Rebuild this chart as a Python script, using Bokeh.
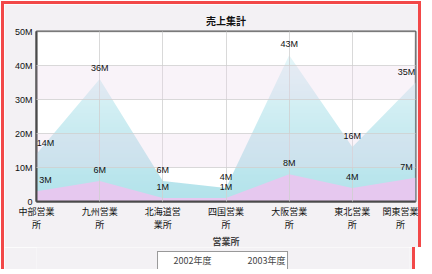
import numpy as np
from bokeh.plotting import figure
from bokeh.layouts import column
from bokeh.models import (ColumnDataSource, FixedTicker, Legend, LegendItem, Range1d, Title, LabelSet)
from bokeh.core.properties import value
from bokeh.embed import file_html
from bokeh.resources import INLINE

categories = ["中部営業所", "九州営業所", "北海道営業所", "四国営業所", "大阪営業所", "東北営業所", "関東営業所"]
sales_2002 = [14, 36, 6, 4, 43, 16, 35]   # million yen
sales_2003 = [3, 6, 1, 1, 8, 4, 7]
series_names = ["2002年度", "2003年度"]
y_ticks = [0, 10, 20, 30, 40, 50]
y_tick_labels = ["0", "10M", "20M", "30M", "40M", "50M"]

JP = "Noto Sans CJK JP"
NUM = "Liberation Sans"
C2002 = "#a8dfe8"
C2003 = "#e6c8ef"
BG = "#f3f1f4"
RED = "3px solid #f24848"

x = list(range(len(categories)))
# keep edge labels inside the (clipped) plot frame
dx = [0] * len(categories)
dx[0], dx[-1] = 9, -9
src = ColumnDataSource(dict(
    x=x, a=sales_2002, b=sales_2003, dx=dx,
    la=[f"{v}M" for v in sales_2002], lb=[f"{v}M" for v in sales_2003]))

p = figure(frame_width=373, frame_height=167, output_backend="svg", toolbar_location=None,
           x_range=Range1d(0, len(categories) - 1), y_range=Range1d(0, 50),
           min_border_left=32, min_border_right=9, min_border_top=27, min_border_bottom=0)
p.styles = {"border-left": RED, "border-right": RED, "border-top": RED,
            "margin-left": "1px", "margin-top": "1px"}
p.border_fill_color = BG
p.background_fill_color = "white"
p.outline_line_color = "#5a5a5a"
p.outline_line_width = 2

# areas
r_a = p.varea(x="x", y1=0, y2="a", source=src, fill_color=C2002, fill_alpha=0.88)
n = 120
alpha = np.linspace(0.0, 0.8, n) ** 1.1
img = np.zeros((n, 1), dtype=np.uint32)
view = img.view(dtype=np.uint8).reshape((n, 1, 4))
view[:, 0, 0] = 255
view[:, 0, 1] = 255
view[:, 0, 2] = 255
view[:, 0, 3] = (alpha * 255).astype(np.uint8)
p.image_rgba(image=[img], x=0, y=0, dw=len(categories) - 1, dh=50)
r_b = p.varea(x="x", y1=0, y2="b", source=src, fill_color=C2003, fill_alpha=1.0)

# value labels
for col in ["la", "lb"]:
    ycol = "a" if col == "la" else "b"
    p.add_layout(LabelSet(x="x", y=ycol, text=col, source=src, text_align="center",
                          text_baseline="middle", y_offset=11, x_offset="dx",
                          text_font=value(NUM), text_font_size="9px", text_color="#111111"))

# grids
p.xgrid.ticker = FixedTicker(ticks=x)
p.ygrid.ticker = FixedTicker(ticks=y_ticks)
for g in (p.xgrid, p.ygrid):
    g.grid_line_color = "#cfcfcf"
    g.grid_line_alpha = 0.8
    g.level = "guide"
p.ygrid.band_fill_color = "#ecd8ec"
p.ygrid.band_fill_alpha = 0.3

# axes
p.xaxis.ticker = FixedTicker(ticks=x)
p.xaxis.major_label_overrides = {i: (c[:4] + "\n" + c[4:]) for i, c in enumerate(categories)}
p.yaxis.ticker = FixedTicker(ticks=y_ticks)
p.yaxis.major_label_overrides = {t: l for t, l in zip(y_ticks, y_tick_labels)}
for ax in (p.xaxis, p.yaxis):
    ax.axis_line_color = "#4a4a4a"
    ax.axis_line_width = 2
    ax.major_tick_line_color = None
    ax.minor_tick_line_color = None
    ax.major_label_text_font_size = "9px"
    ax.major_label_text_color = "#111111"
    ax.major_tick_out = 0
    ax.major_tick_in = 0
p.xaxis.major_label_standoff = 3
p.yaxis.major_label_standoff = 4
p.xaxis.major_label_text_font = JP
p.yaxis.major_label_text_font = NUM
p.xaxis.major_label_text_line_height = 1.0
p.xaxis.axis_label = "営業所"
p.xaxis.axis_label_text_font = JP
p.xaxis.axis_label_text_font_style = "bold"
p.xaxis.axis_label_text_font_size = "9px"
p.xaxis.axis_label_standoff = 1

p.title = Title(text="売上集計", align="center", text_font=JP, text_font_size="10px",
                text_font_style="bold", text_color="#111111", standoff=8)

# legend strip below the chart (its own small figure, so it is never clipped away)
pl = figure(width=414, height=22, output_backend="svg", toolbar_location=None,
            x_axis_type=None, y_axis_type=None, min_border=0,
            x_range=Range1d(0, 1), y_range=Range1d(0, 1))
pl.styles = {"border-left": RED, "border-right": RED, "margin-left": "1px"}
pl.border_fill_color = BG
pl.background_fill_color = BG
pl.outline_line_color = None
pl.grid.visible = False
la = pl.varea(x=[], y1=[], y2=[], fill_color=C2002)
lb = pl.varea(x=[], y1=[], y2=[], fill_color=C2003)
legend = Legend(items=[LegendItem(label=series_names[0], renderers=[la]),
                       LegendItem(label=series_names[1], renderers=[lb])],
                orientation="horizontal", location="top_center",
                label_text_font=JP, label_text_font_size="9px", label_height=9,
                glyph_width=8, glyph_height=8, label_standoff=6, spacing=22,
                padding=2, margin=4, border_line_color="#333333", border_line_width=1,
                background_fill_color="white")
pl.add_layout(legend, "center")

layout = column(p, pl, spacing=0)
open("out.html", "w").write(file_html(layout, INLINE))
